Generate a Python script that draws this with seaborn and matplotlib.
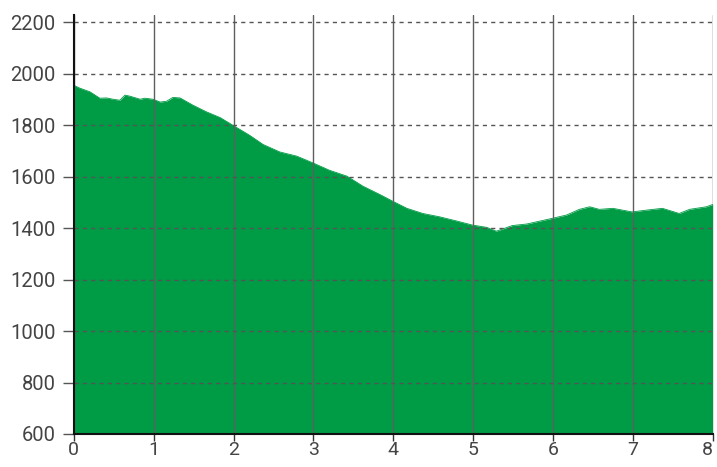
import matplotlib
matplotlib.use("Agg")
import matplotlib.pyplot as plt
import seaborn as sns
import pandas as pd

distance_km = [0.00, 0.075, 0.20, 0.325, 0.41, 0.49, 0.575, 0.64, 0.70, 0.83, 0.89, 0.99,
               1.08, 1.16, 1.24, 1.33, 1.49, 1.66, 1.83, 1.99, 2.20, 2.37, 2.58, 2.79, 2.99,
               3.20, 3.42, 3.62, 3.83, 3.99, 4.17, 4.37, 4.58, 4.79, 4.99, 5.17, 5.29, 5.49,
               5.67, 5.83, 5.99, 6.17, 6.33, 6.46, 6.58, 6.75, 6.87, 6.99, 7.17, 7.37, 7.58,
               7.71, 7.92, 8.00]
elevation_m = [1955, 1944, 1930, 1905, 1906, 1901, 1897, 1917, 1913, 1901, 1905, 1901,
               1890, 1893, 1908, 1906, 1878, 1852, 1830, 1800, 1761, 1725, 1696, 1680, 1654,
               1625, 1602, 1563, 1531, 1505, 1477, 1457, 1444, 1428, 1412, 1403, 1388, 1410,
               1416, 1427, 1438, 1451, 1473, 1483, 1473, 1477, 1470, 1463, 1470, 1477, 1457,
               1473, 1483, 1492]
x_ticks = [0, 1, 2, 3, 4, 5, 6, 7, 8]
y_ticks = [600, 800, 1000, 1200, 1400, 1600, 1800, 2000, 2200]

sns.set_theme(style="white")
plt.rcParams['font.family'] = ['Roboto', 'DejaVu Sans']

df = pd.DataFrame({"km": distance_km, "elev": elevation_m})
green = "#009b45"

fig = plt.figure(figsize=(7.17, 4.67), dpi=100)
ax = fig.add_axes([0.103, 0.0707, 0.891, 0.897])
sns.lineplot(data=df, x="km", y="elev", ax=ax, color=green, linewidth=0.6)
ax.fill_between(df["km"], df["elev"], 600, color=green, linewidth=0, zorder=1)

ax.set_xlim(0, 8)
ax.set_ylim(600, 2228)
ax.set_xticks(x_ticks)
ax.set_yticks(y_ticks)
ax.set_xlabel("")
ax.set_ylabel("")

ax.set_axisbelow(False)
ax.xaxis.grid(True, color="#5f5f5f", linewidth=1.0, linestyle="-", zorder=3)
ax.yaxis.grid(True, color="#555555", linewidth=1.0, linestyle=(0, (3, 3)), zorder=3)

for s in ["top", "right"]:
    ax.spines[s].set_visible(False)
for s in ["left", "bottom"]:
    ax.spines[s].set_color("#111111")
    ax.spines[s].set_linewidth(1.5)
    ax.spines[s].set_zorder(4)

ax.tick_params(axis="x", length=5, width=1, color="#333333", labelsize=14,
               labelcolor="#444444", pad=0, bottom=True)
ax.tick_params(axis="y", length=8, width=1, color="#555555", labelsize=14.5,
               labelcolor="#444444", pad=5, left=True)
labels = ax.get_xticklabels()
labels[-1].set_horizontalalignment("right")

fig.savefig("out.png", dpi=100)
